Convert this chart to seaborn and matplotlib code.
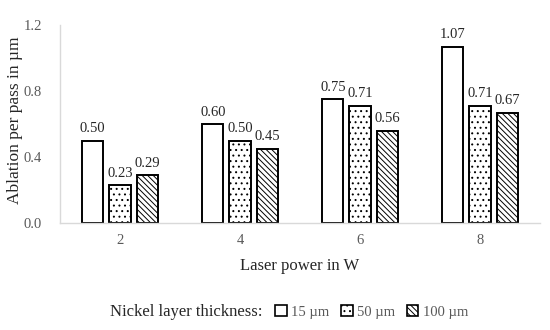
"""Ablation per pass vs laser power, grouped bars with hatches."""

import matplotlib.pyplot as plt
import pandas as pd
import seaborn as sns

# Data
laser_power = ["2", "4", "6", "8"]
thickness_labels = ["15 µm", "50 µm", "100 µm"]
ablation_15 = [0.50, 0.60, 0.75, 1.07]
ablation_50 = [0.23, 0.50, 0.71, 0.71]
ablation_100 = [0.29, 0.45, 0.56, 0.67]
y_ticks = [0.0, 0.4, 0.8, 1.2]

sns.set_style("white")
plt.rcParams["font.family"] = ["Liberation Serif", "DejaVu Serif"]
plt.rcParams["hatch.linewidth"] = 0.7

# Build long-format table
rows = []
for label, values in zip(thickness_labels, [ablation_15, ablation_50, ablation_100]):
    for p, v in zip(laser_power, values):
        rows.append({"power": p, "thickness": label, "ablation": v})
df = pd.DataFrame(rows)

fig = plt.figure(figsize=(5.5, 3.3), dpi=100)
ax = fig.add_axes([0.109, 0.324, 0.873, 0.6])

sns.barplot(
    data=df,
    x="power",
    y="ablation",
    hue="thickness",
    hue_order=thickness_labels,
    order=laser_power,
    palette=["white"] * 3,
    edgecolor="black",
    linewidth=1.4,
    width=0.68,
    gap=0.22,
    legend=False,
    ax=ax,
)

hatches = ["", "...", "\\\\\\\\\\\\"]
for container, hatch in zip(ax.containers, hatches):
    for bar in container:
        bar.set_hatch(hatch)
    ax.bar_label(container, fmt="%.2f", padding=4, fontsize=10.5)

ax.set_ylim(0, 1.2)
ax.set_xlim(-0.5, 3.5)
ax.set_yticks(y_ticks)
ax.set_yticklabels([f"{t:.1f}" for t in y_ticks])
ax.tick_params(axis="both", colors="#595959", labelsize=10.5, length=0)
ax.tick_params(axis="x", pad=8)
ax.tick_params(axis="y", pad=13)
ax.set_xlabel("Laser power in W", fontsize=12, labelpad=8)
ax.set_ylabel("Ablation per pass in µm", fontsize=12.5, va="center")
ax.yaxis.set_label_coords(-0.094, 0.52)
for side in ["top", "right"]:
    ax.spines[side].set_visible(False)
for side in ["left", "bottom"]:
    ax.spines[side].set_color("#d9d9d9")
    ax.spines[side].set_linewidth(1.0)

# Legend with inline title
handles = [
    plt.Rectangle((0, 0), 1, 1, facecolor="white", edgecolor="black",
                  hatch=h, linewidth=1.2)
    for h in hatches
]
fig.text(0.478, 0.055, "Nickel layer thickness:", fontsize=12,
         ha="right", va="center")
fig.legend(
    handles,
    thickness_labels,
    loc="center left",
    bbox_to_anchor=(0.476, 0.055),
    ncol=3,
    frameon=False,
    fontsize=10.5,
    handlelength=0.8,
    handleheight=0.8,
    handletextpad=0.3,
    columnspacing=0.8,
    labelcolor="#595959",
)

fig.savefig("out.png", dpi=100)
